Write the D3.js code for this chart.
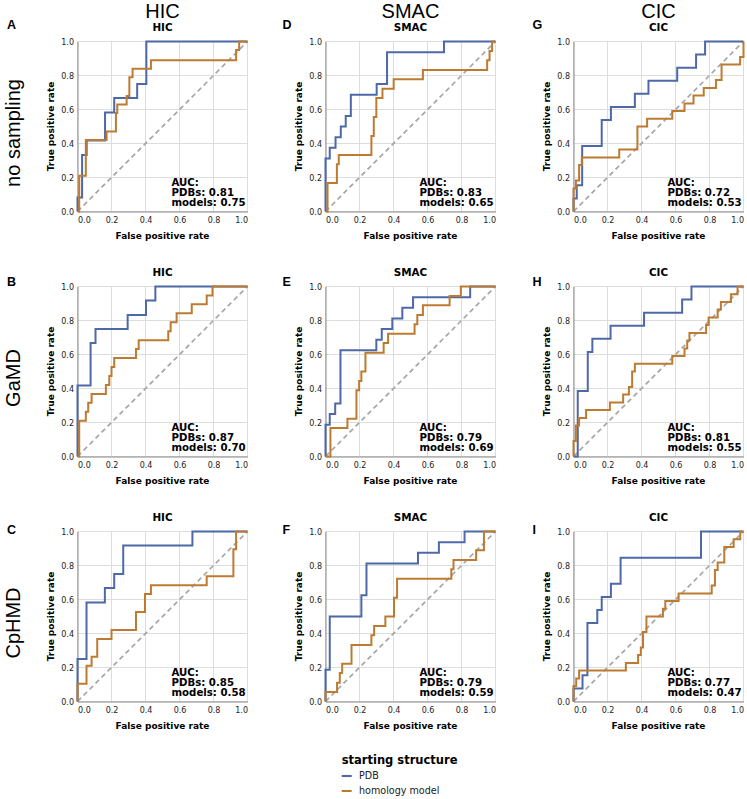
<!DOCTYPE html>
<html><head><meta charset="utf-8">
<script src="https://cdn.jsdelivr.net/npm/d3@7"></script>
<style>body{margin:0;background:#fff}</style></head>
<body><svg id="c" width="747" height="799"></svg>
<script>
// ---------- data ----------
const methods = ["HIC", "SMAC", "CIC"];
const samplings = ["no sampling", "GaMD", "CpHMD"];
const panelLetters = [["A", "D", "G"], ["B", "E", "H"], ["C", "F", "I"]];
const aucPdb = [[0.81, 0.83, 0.72], [0.87, 0.79, 0.81], [0.85, 0.79, 0.77]];
const aucModel = [[0.75, 0.65, 0.53], [0.70, 0.69, 0.55], [0.58, 0.59, 0.47]];
const seriesNames = ["PDB", "homology model"];
const tickValues = [0, 0.2, 0.4, 0.6, 0.8, 1.0];

// ROC curves: FPR where TPR rises, and TPR after that rise
// A: no sampling / HIC
const aPdbFpr = [0, 0.027, 0.054, 0.162, 0.216, 0.351, 0.405];
const aPdbTpr = [0.083, 0.333, 0.417, 0.583, 0.667, 0.75, 1.0];
const aModelFpr = [0.01, 0.049, 0.171, 0.226, 0.234, 0.289, 0.305, 0.324, 0.432, 0.933, 0.951];
const aModelTpr = [0.21, 0.42, 0.47, 0.58, 0.63, 0.68, 0.79, 0.84, 0.89, 0.95, 1.0];
// D: no sampling / SMAC
const dPdbFpr = [0, 0.025, 0.059, 0.09, 0.119, 0.149, 0.301, 0.362, 0.697];
const dPdbTpr = [0.3125, 0.375, 0.4375, 0.5, 0.5625, 0.6875, 0.75, 0.9375, 1.0];
const dModelFpr = [0.012, 0.067, 0.078, 0.27, 0.284, 0.299, 0.335, 0.401, 0.573, 0.951, 0.965, 0.98];
const dModelTpr = [0.167, 0.278, 0.333, 0.444, 0.556, 0.667, 0.722, 0.778, 0.833, 0.889, 0.944, 1.0];
// G: no sampling / CIC
const gPdbFpr = [0, 0.019, 0.051, 0.166, 0.22, 0.361, 0.441, 0.61, 0.721, 0.774];
const gPdbTpr = [0.077, 0.154, 0.385, 0.538, 0.615, 0.692, 0.769, 0.846, 0.923, 1.0];
const gModelFpr = [0, 0.014, 0.033, 0.049, 0.269, 0.376, 0.433, 0.581, 0.653, 0.706, 0.766, 0.838, 0.871, 0.98, 1.0];
const gModelTpr = [0.136, 0.182, 0.273, 0.318, 0.364, 0.5, 0.545, 0.591, 0.636, 0.682, 0.727, 0.773, 0.864, 0.909, 1.0];
// B: GaMD / HIC
const bPdbFpr = [0, 0.077, 0.106, 0.295, 0.403, 0.458];
const bPdbTpr = [0.417, 0.667, 0.75, 0.833, 0.917, 1.0];
const bModelFpr = [0.01, 0.049, 0.063, 0.083, 0.167, 0.187, 0.2, 0.216, 0.344, 0.36, 0.534, 0.548, 0.583, 0.672, 0.76, 0.794];
const bModelTpr = [0.21, 0.263, 0.316, 0.368, 0.421, 0.474, 0.526, 0.579, 0.632, 0.684, 0.737, 0.789, 0.842, 0.895, 0.947, 1.0];
// E: GaMD / SMAC
const ePdbFpr = [0, 0.025, 0.057, 0.088, 0.299, 0.331, 0.393, 0.452, 0.515, 0.851];
const ePdbTpr = [0.1875, 0.25, 0.3125, 0.625, 0.6875, 0.75, 0.8125, 0.875, 0.9375, 1.0];
const eModelFpr = [0.029, 0.129, 0.182, 0.198, 0.211, 0.235, 0.342, 0.368, 0.524, 0.54, 0.573, 0.73, 0.796];
const eModelTpr = [0.167, 0.222, 0.389, 0.444, 0.5, 0.611, 0.667, 0.722, 0.778, 0.833, 0.889, 0.944, 1.0];
// H: GaMD / CIC
const hPdbFpr = [0.025, 0.084, 0.111, 0.218, 0.415, 0.639, 0.694];
const hPdbTpr = [0.385, 0.615, 0.692, 0.769, 0.846, 0.923, 1.0];
const hModelFpr = [0, 0.014, 0.033, 0.074, 0.214, 0.292, 0.326, 0.345, 0.361, 0.581, 0.653, 0.669, 0.682, 0.78, 0.795, 0.848, 0.867, 0.926, 0.965];
const hModelTpr = [0.091, 0.182, 0.227, 0.273, 0.318, 0.364, 0.409, 0.5, 0.545, 0.591, 0.636, 0.682, 0.727, 0.773, 0.818, 0.864, 0.909, 0.955, 1.0];
// C: CpHMD / HIC
const cPdbFpr = [0, 0.053, 0.161, 0.216, 0.269, 0.676];
const cPdbTpr = [0.25, 0.583, 0.667, 0.75, 0.917, 1.0];
const cModelFpr = [0, 0.053, 0.083, 0.116, 0.2, 0.344, 0.397, 0.432, 0.76, 0.917, 0.933];
const cModelTpr = [0.105, 0.21, 0.263, 0.368, 0.421, 0.526, 0.632, 0.684, 0.737, 0.895, 1.0];
// F: CpHMD / SMAC
const fPdbFpr = [0, 0.025, 0.211, 0.241, 0.544, 0.667, 0.818];
const fPdbTpr = [0.1875, 0.5, 0.625, 0.8125, 0.875, 0.9375, 1.0];
const fModelFpr = [0, 0.068, 0.084, 0.098, 0.153, 0.27, 0.286, 0.352, 0.403, 0.421, 0.74, 0.753, 0.886, 0.932];
const fModelTpr = [0.056, 0.111, 0.167, 0.222, 0.333, 0.389, 0.444, 0.5, 0.611, 0.722, 0.778, 0.833, 0.889, 1.0];
// I: CpHMD / CIC
const iPdbFpr = [0, 0.053, 0.082, 0.14, 0.166, 0.22, 0.277, 0.75];
const iPdbTpr = [0.077, 0.154, 0.462, 0.538, 0.615, 0.692, 0.846, 1.0];
const iModelFpr = [0, 0.016, 0.033, 0.308, 0.38, 0.396, 0.409, 0.429, 0.526, 0.54, 0.618, 0.813, 0.832, 0.848, 0.887, 0.942, 0.981];
const iModelTpr = [0.091, 0.136, 0.182, 0.227, 0.273, 0.318, 0.409, 0.5, 0.545, 0.591, 0.636, 0.682, 0.773, 0.818, 0.909, 0.955, 1.0];

// ---------- table built from the arrays ----------
const curves = [
  [[aPdbFpr, aPdbTpr, aModelFpr, aModelTpr], [dPdbFpr, dPdbTpr, dModelFpr, dModelTpr], [gPdbFpr, gPdbTpr, gModelFpr, gModelTpr]],
  [[bPdbFpr, bPdbTpr, bModelFpr, bModelTpr], [ePdbFpr, ePdbTpr, eModelFpr, eModelTpr], [hPdbFpr, hPdbTpr, hModelFpr, hModelTpr]],
  [[cPdbFpr, cPdbTpr, cModelFpr, cModelTpr], [fPdbFpr, fPdbTpr, fModelFpr, fModelTpr], [iPdbFpr, iPdbTpr, iModelFpr, iModelTpr]]
];

// ---------- layout ----------
const colors = ["#4d69a8", "#bd7b31"];
const colLeft = [77.5, 325.5, 573.5];
const rowTop = [41.5, 286.5, 531.5];
const S = 170;
const letterX = [7, 282.5, 532.5];
const letterY = [28.5, 285.5, 534];
const sans = "'DejaVu Sans', sans-serif";
const arial = "'Liberation Sans', Arial, sans-serif";

const svg = d3.select("#c");
const x = d3.scaleLinear().domain([0, 1]).range([0, S]);
const y = d3.scaleLinear().domain([0, 1]).range([S, 0]);
const fmt = d3.format(".1f");
const line = d3.line().x(d => x(d[0])).y(d => y(d[1])).curve(d3.curveStepAfter);

// column headers
methods.forEach((m, c) => {
  svg.append("text").attr("x", colLeft[c] + S / 2).attr("y", 17.5)
    .attr("text-anchor", "middle").attr("font-family", arial).attr("font-size", 20).attr("fill", "#000").text(m);
});
// row labels
samplings.forEach((s, r) => {
  const cy = rowTop[r] + S / 2 + 6.5;
  svg.append("text").attr("transform", `translate(20,${cy}) rotate(-90)`)
    .attr("text-anchor", "middle").attr("font-family", arial).attr("font-size", 20).attr("fill", "#000").text(s);
});

for (let r = 0; r < 3; r++) {
  for (let c = 0; c < 3; c++) {
    // panel letter
    svg.append("text").attr("x", letterX[c]).attr("y", letterY[r])
      .attr("font-family", arial).attr("font-weight", "bold").attr("font-size", 12.5).text(panelLetters[r][c]);

    const g = svg.append("g").attr("transform", `translate(${colLeft[c]},${rowTop[r]})`);
    // title
    g.append("text").attr("x", S / 2).attr("y", -11).attr("text-anchor", "middle")
      .attr("font-family", sans).attr("font-weight", "bold").attr("font-size", 10.4).text(methods[c]);
    // grid
    g.append("g").selectAll("line.v").data(tickValues).join("line")
      .attr("x1", d => x(d)).attr("x2", d => x(d)).attr("y1", 0).attr("y2", S)
      .attr("stroke", "#dddddd").attr("stroke-width", 1);
    g.append("g").selectAll("line.h").data(tickValues).join("line")
      .attr("y1", d => y(d)).attr("y2", d => y(d)).attr("x1", 0).attr("x2", S)
      .attr("stroke", "#dddddd").attr("stroke-width", 1);
    // axes
    const ax = g.append("g").attr("transform", `translate(0,${S})`)
      .call(d3.axisBottom(x).tickValues(tickValues).tickFormat(fmt).tickSize(0).tickSizeOuter(0).tickPadding(5.8));
    ax.selectAll("text").attr("font-family", sans).attr("font-size", 8).attr("fill", "#222")
      .attr("text-anchor", (d, i) => i === 0 ? "start" : (i === tickValues.length - 1 ? "end" : "middle"));
    ax.select(".domain").attr("stroke", "#888");
    const ay = g.append("g")
      .call(d3.axisLeft(y).tickValues(tickValues).tickFormat(fmt).tickSize(0).tickSizeOuter(0).tickPadding(3.5));
    ay.selectAll("text").attr("font-family", sans).attr("font-size", 8).attr("fill", "#222");
    ay.select(".domain").attr("stroke", "#888");
    // axis titles
    g.append("text").attr("x", S / 2).attr("y", S + 27).attr("text-anchor", "middle")
      .attr("font-family", sans).attr("font-weight", "bold").attr("font-size", 9).text("False positive rate");
    g.append("text").attr("transform", `translate(-23.5,${S / 2}) rotate(-90)`).attr("text-anchor", "middle")
      .attr("font-family", sans).attr("font-weight", "bold").attr("font-size", 9).text("True positive rate");
    // diagonal
    g.append("line").attr("x1", x(0)).attr("y1", y(0)).attr("x2", x(1)).attr("y2", y(1))
      .attr("stroke", "#a6a6a6").attr("stroke-width", 1.7).attr("stroke-dasharray", "5,3.5");
    // curves
    const cv = curves[r][c];
    [0, 1].forEach(k => {
      const fpr = cv[k * 2], tpr = cv[k * 2 + 1];
      const pts = [[0, 0]].concat(fpr.map((f, i) => [f, tpr[i]])).concat([[1, 1]]);
      g.append("path").datum(pts).attr("d", line).attr("fill", "none")
        .attr("stroke", colors[k]).attr("stroke-width", 2);
    });
    // AUC text
    const auc = ["AUC:", "PDBs: " + aucPdb[r][c].toFixed(2), "models: " + aucModel[r][c].toFixed(2)];
    auc.forEach((t, i) => {
      g.append("text").attr("x", 94).attr("y", 144 + i * 10.4)
        .attr("font-family", sans).attr("font-weight", "bold").attr("font-size", 10.2).text(t);
    });
  }
}

// legend
const lg = svg.append("g").attr("transform", "translate(341.7,0)");
lg.append("text").attr("x", 0).attr("y", 764).attr("font-family", sans).attr("font-weight", "bold")
  .attr("font-size", 11.5).text("starting structure");
seriesNames.forEach((n, i) => {
  const yy = 776 + i * 15;
  lg.append("line").attr("x1", 0).attr("x2", 10).attr("y1", yy).attr("y2", yy)
    .attr("stroke", colors[i]).attr("stroke-width", 2);
  lg.append("text").attr("x", 17.3).attr("y", yy + 3.4).attr("font-family", sans)
    .attr("font-size", 9.6).attr("fill", "#222").text(n);
});
</script>
</body></html>
